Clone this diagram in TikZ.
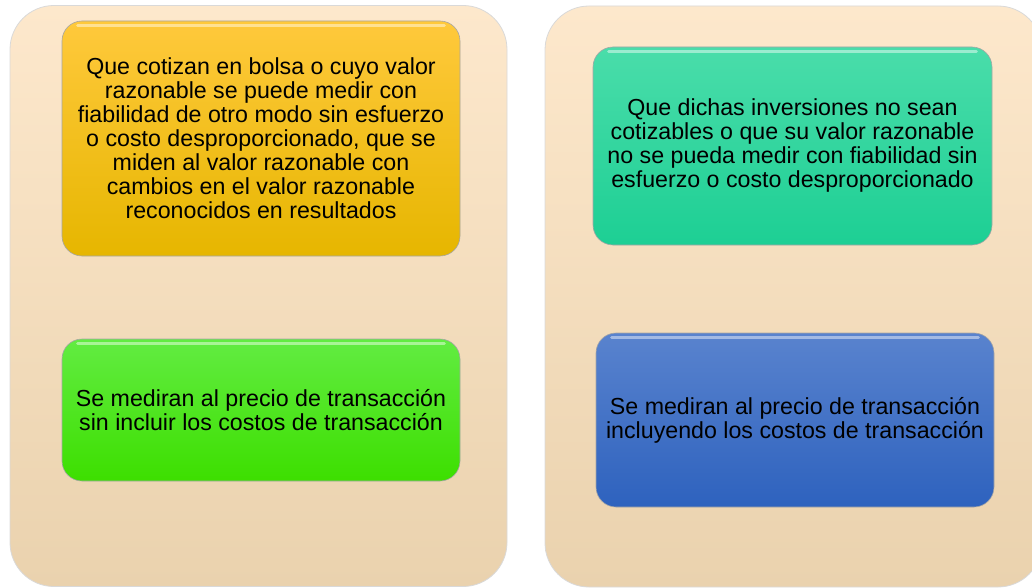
\documentclass[tikz,border=0pt]{standalone}
\usepackage{fontspec}
\setmainfont{Liberation Sans}
\definecolor{paneltop}{HTML}{FDE8CC}
\definecolor{panelbot}{HTML}{EAD2AE}
\definecolor{goldtop}{HTML}{FFC93C}
\definecolor{goldbot}{HTML}{E6B600}
\definecolor{limetop}{HTML}{62EC42}
\definecolor{limebot}{HTML}{3DDF00}
\definecolor{tealtop}{HTML}{4ADDAA}
\definecolor{tealbot}{HTML}{1DCF94}
\definecolor{bluetop}{HTML}{5983CE}
\definecolor{bluebot}{HTML}{2E62BE}
\begin{document}
\begin{tikzpicture}[x=1pt, y=-1pt]
    \useasboundingbox (0,0) rectangle (1032,588);
    \clip (0,0) rectangle (1032,588);
    \begin{scope}
        \tikzstyle{every node}=[draw=black!15, line width=0.8pt, rounded corners=44pt, minimum width=497pt, minimum height=581pt, top color=paneltop, bottom color=panelbot, inner sep=0pt]
        \node (leftpanel) at (258.5,296) {};
        \node (rightpanel) at (793.5,296.5) {};
    \end{scope}
    \begin{scope}
        \tikzstyle{every node}=[draw=black!35, line width=0.6pt, rounded corners=20pt, align=center, text=black, inner sep=0pt, font=\fontsize{23.2}{24}\selectfont]
        \node[minimum width=398pt, minimum height=235pt, top color=goldtop, bottom color=goldbot] (fiable) at (261,138.5)
            {Que cotizan en bolsa o cuyo valor\\ razonable se puede medir con\\ fiabilidad de otro modo sin esfuerzo\\ o costo desproporcionado, que se\\ miden al valor razonable con\\ cambios en el valor razonable\\ reconocidos en resultados};
        \node[minimum width=398pt, minimum height=142pt, top color=limetop, bottom color=limebot] (sincostos) at (261,410)
            {Se mediran al precio de transacción\\ sin incluir los costos de transacción};
        \node[minimum width=399pt, minimum height=198pt, top color=tealtop, bottom color=tealbot] (nofiable) at (792.5,146)
            {Que dichas inversiones no sean\\ cotizables o que su valor razonable\\ no se pueda medir con fiabilidad sin\\ esfuerzo o costo desproporcionado};
        \node[minimum width=398pt, minimum height=174pt, top color=bluetop, bottom color=bluebot] (concostos) at (795,420)
            {Se mediran al precio de transacción\\ incluyendo los costos de transacción};
    \end{scope}
    % glossy top edge of each box
    \begin{scope}
        \tikzstyle{every path}=[white, opacity=0.45, line width=3pt, line cap=round]
        \foreach \boxname in {fiable, sincostos, nofiable, concostos}
            \draw ([xshift=16pt, yshift=-5pt]\boxname.north west) -- ([xshift=-16pt, yshift=-5pt]\boxname.north east);
    \end{scope}
\end{tikzpicture}
\end{document}
